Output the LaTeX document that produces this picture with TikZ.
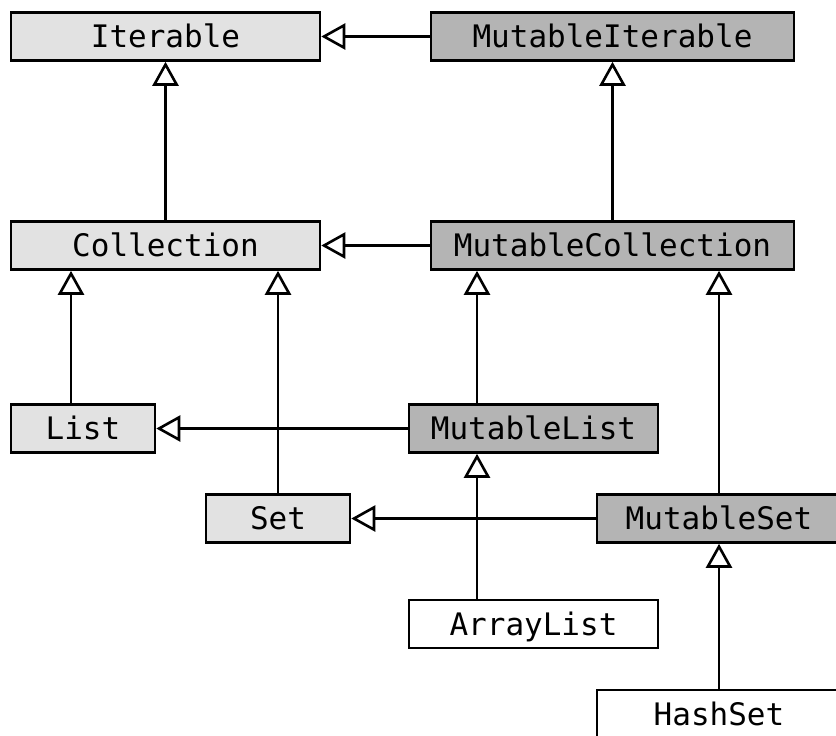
\documentclass[tikz,border=0pt]{standalone}
\usepackage{fontspec}
\setmonofont{DejaVu Sans Mono}
\usepackage{tikz}
\usetikzlibrary{arrows.meta}
\definecolor{readonlyfill}{RGB}{226,226,226}
\definecolor{mutablefill}{RGB}{180,180,180}

\begin{document}
\begin{tikzpicture}[
    x=1pt, y=-1pt,
    classbox/.style={rectangle, draw=black, line width=2.6pt, minimum height=48pt, inner sep=0pt,
        text height=22.6pt, text depth=0pt, font=\ttfamily\fontsize{31}{36}\selectfont},
    readonly/.style={classbox, fill=readonlyfill},
    mutable/.style={classbox, fill=mutablefill},
    impl/.style={classbox, fill=white},
    inherit/.style={-{Triangle[open, length=24pt, width=26pt, line width=2.6pt]}, line width=2.6pt}
]
\clip (0,0) rectangle (836,736);

% Read-only interfaces
\node (iterable) [readonly, minimum width=309pt] at (165.5,36.5) {Iterable};
\node (collection) [readonly, minimum width=309pt] at (165.5,245.5) {Collection};
\node (list) [readonly, minimum width=144pt] at (83,428.5) {List};
\node (set) [readonly, minimum width=144pt] at (278,518.5) {Set};

% Mutable interfaces
\node (mutIterable) [mutable, minimum width=363pt] at (612.5,36.5) {MutableIterable};
\node (mutCollection) [mutable, minimum width=363pt] at (612.5,245.5) {MutableCollection};
\node (mutList) [mutable, minimum width=249pt] at (533.5,428.5) {MutableList};
\node (mutSet) [mutable, minimum width=244pt] at (719,518.5) {MutableSet};

% Classes
\node (arrayList) [impl, minimum width=249pt] at (533.5,624) {ArrayList};
\node (hashSet) [impl, minimum width=244pt] at (719,714) {HashSet};

% Columns for the off-centre arrows
\coordinate (colA) at (71,0);
\coordinate (colB) at (477,0);

% Arrows
\draw[inherit] (collection.north) -- (iterable.south);
\draw[inherit] (mutCollection.north) -- (mutIterable.south);
\draw[inherit] (mutIterable.west) -- (iterable.east);
\draw[inherit] (mutCollection.west) -- (collection.east);
\draw[inherit] (list.north -| colA) -- (collection.south -| colA);
\draw[inherit] (set.north) -- (set.north |- collection.south);
\draw[inherit] (mutList.north -| colB) -- (mutCollection.south -| colB);
\draw[inherit] (mutList.west) -- (list.east);
\draw[inherit] (mutSet.north) -- (mutSet.north |- mutCollection.south);
\draw[inherit] (mutSet.west) -- (set.east);
\draw[inherit] (arrayList.north -| colB) -- (mutList.south -| colB);
\draw[inherit] (hashSet.north) -- (mutSet.south);

\end{tikzpicture}
\end{document}
